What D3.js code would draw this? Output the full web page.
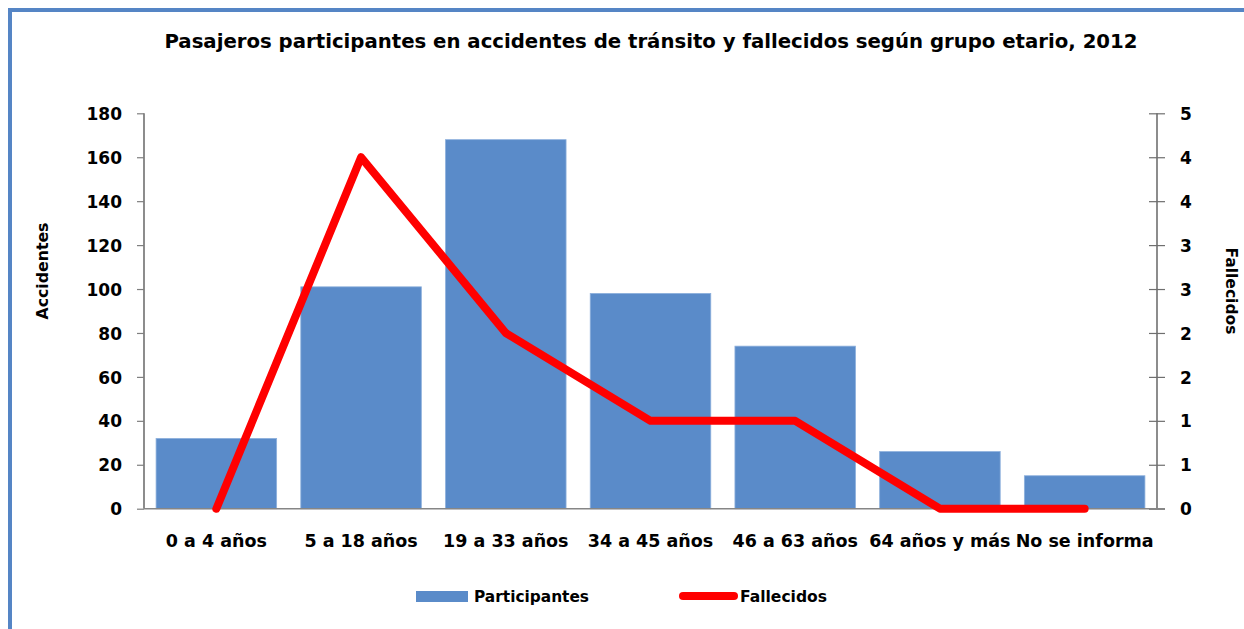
<!DOCTYPE html>
<html><head><meta charset="utf-8">
<script src="https://cdn.jsdelivr.net/npm/d3@7"></script>
<style>
html,body{margin:0;padding:0;background:#fff;}
text{font-family:"DejaVu Sans",Lato,sans-serif;font-weight:bold;fill:#000;}
.title{font-family:"DejaVu Sans Condensed","DejaVu Sans",sans-serif;}
</style></head>
<body>
<svg id="chart" width="1244" height="629"></svg>
<script>
const categories = ["0 a 4 años","5 a 18 años","19 a 33 años","34 a 45 años","46 a 63 años","64 años y más","No se informa"];
const participantes = [32,101,168,98,74,26,15];
const fallecidos = [0,4,2,1,1,0,0];
const leftTicks = [0,20,40,60,80,100,120,140,160,180];
const rightTicks = [0,0.5,1,1.5,2,2.5,3,3.5,4,4.5];
const title = "Pasajeros participantes en accidentes de tránsito y fallecidos según grupo etario, 2012";

const svg = d3.select("#chart");
const W = 1244, H = 629;
svg.append("rect").attr("width",W).attr("height",H).attr("fill","#fff");
// frame
svg.append("path").attr("d","M10,"+(H+5)+" V10 H"+(W+5))
  .attr("fill","none").attr("stroke","#5585C5").attr("stroke-width",4);

const plot = {l:144, r:1157, t:113.3, b:508.7};
const x = d3.scaleBand().domain(categories).range([plot.l,plot.r]).paddingInner(0.167).paddingOuter(0.0835);
const yL = d3.scaleLinear().domain([0,180]).range([plot.b,plot.t]);
const yR = d3.scaleLinear().domain([0,4.5]).range([plot.b,plot.t]);

// bars
svg.append("g").selectAll("rect").data(categories).join("rect")
  .attr("x",d=>x(d)).attr("width",x.bandwidth())
  .attr("y",(d,i)=>yL(participantes[i])).attr("height",(d,i)=>plot.b-yL(participantes[i]))
  .attr("fill","#5A8BC9").attr("stroke","#8DB0DC").attr("stroke-width",0.8);

// left axis
const gL = svg.append("g").attr("transform",`translate(${plot.l},0)`)
  .call(d3.axisLeft(yL).tickValues(leftTicks).tickSize(7).tickPadding(15).tickFormat(d3.format("d")));
gL.select(".domain").attr("stroke","#404040").attr("stroke-width",1.2).attr("d",`M0,${plot.t}V${plot.b}`);
gL.selectAll(".tick line").attr("stroke","#7f7f7f").attr("stroke-width",1.2);
gL.selectAll(".tick text").style("font-size","17px").attr("fill","#000").attr("dy","0.36em");

// right axis
const gR = svg.append("g").attr("transform",`translate(${plot.r},0)`)
  .call(d3.axisRight(yR).tickValues(rightTicks).tickSize(8).tickPadding(15).tickFormat(d=>String(Math.round(d))));
gR.select(".domain").attr("stroke","#404040").attr("stroke-width",1.2).attr("d",`M0,${plot.t}V${plot.b}`);
gR.selectAll(".tick line").attr("x1",-8).attr("stroke","#6f6f6f").attr("stroke-width",1.2);
gR.selectAll(".tick text").style("font-size","17px").attr("fill","#000").attr("dy","0.36em");

// baseline
svg.append("line").attr("x1",plot.l).attr("x2",plot.r+8).attr("y1",plot.b).attr("y2",plot.b)
  .attr("stroke","#868686").attr("stroke-width",1.5);

// category labels
const gX = svg.append("g").attr("transform",`translate(0,${plot.b})`)
  .call(d3.axisBottom(x).tickSize(0).tickPadding(0));
gX.select(".domain").remove();
gX.selectAll(".tick text").attr("y",38).attr("dy",0).style("font-size","17.5px").attr("fill","#000");

// line
const line = d3.line().x((d,i)=>x(categories[i])+x.bandwidth()/2).y(d=>yR(d));
svg.append("path").datum(fallecidos).attr("d",line)
  .attr("fill","none").attr("stroke","#FF0000").attr("stroke-width",8)
  .attr("stroke-linejoin","round").attr("stroke-linecap","round");

// title
svg.append("text").attr("class","title").attr("x",651).attr("y",48).attr("text-anchor","middle")
  .style("font-size","20px").attr("textLength",973).attr("lengthAdjust","spacingAndGlyphs").text(title);

// axis titles
svg.append("text").attr("transform","translate(48,271) rotate(-90)").attr("text-anchor","middle")
  .style("font-size","16px").attr("textLength",97).attr("lengthAdjust","spacingAndGlyphs").text("Accidentes");
svg.append("text").attr("transform","translate(1226,291) rotate(90)").attr("text-anchor","middle")
  .style("font-size","16px").attr("textLength",87).attr("lengthAdjust","spacingAndGlyphs").text("Fallecidos");

// legend
svg.append("rect").attr("x",416).attr("y",591).attr("width",52).attr("height",11).attr("fill","#5A8BC9");
svg.append("text").attr("x",474).attr("y",602).style("font-size","16.5px")
  .attr("textLength",115).attr("lengthAdjust","spacingAndGlyphs").text("Participantes");
svg.append("line").attr("x1",683).attr("x2",734).attr("y1",596).attr("y2",596)
  .attr("stroke","#FF0000").attr("stroke-width",8).attr("stroke-linecap","round");
svg.append("text").attr("x",740).attr("y",602).style("font-size","16.5px")
  .attr("textLength",87).attr("lengthAdjust","spacingAndGlyphs").text("Fallecidos");
</script>
</body></html>
